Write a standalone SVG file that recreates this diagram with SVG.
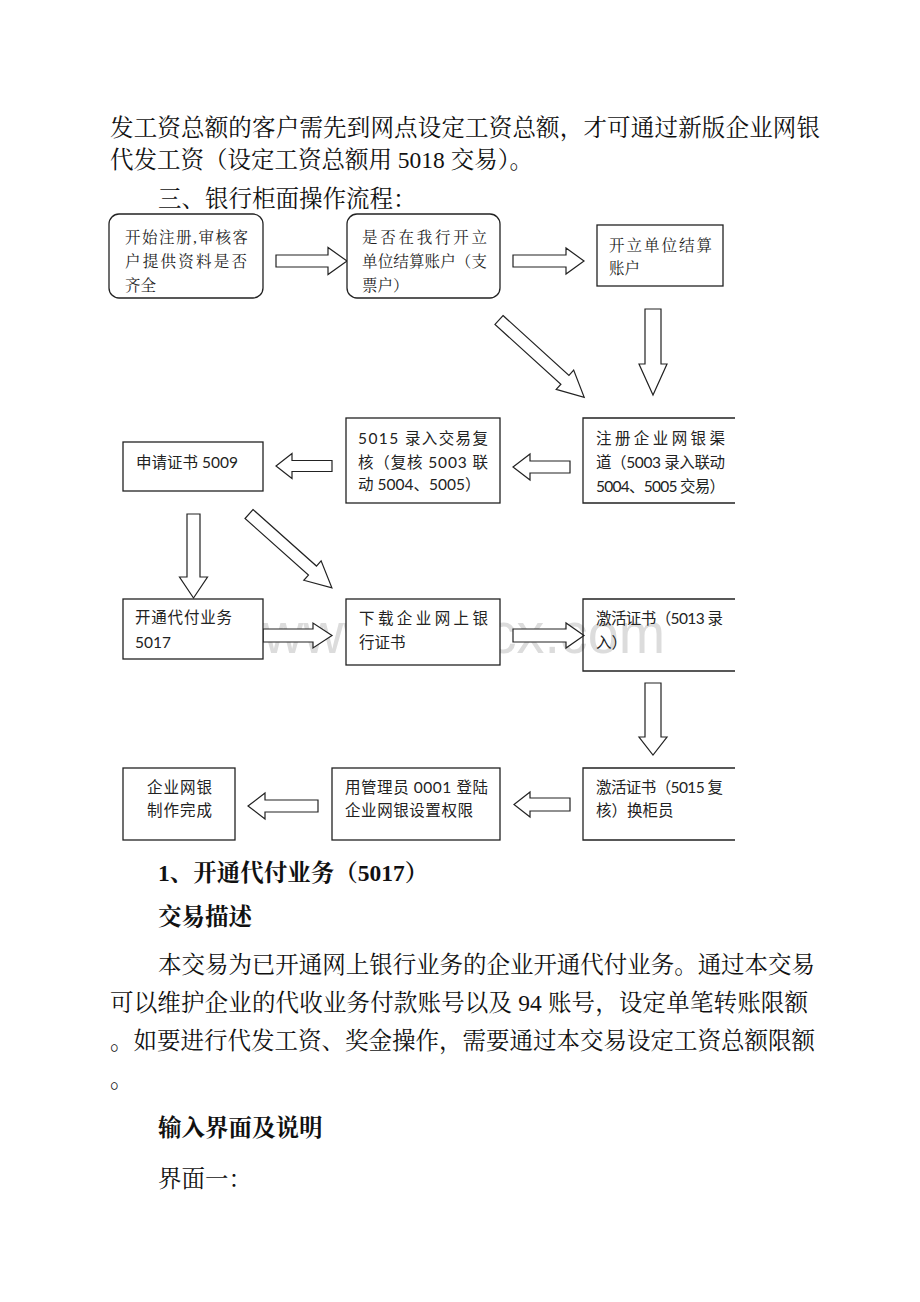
<svg xmlns="http://www.w3.org/2000/svg" width="920" height="1302" viewBox="0 0 920 1302">
<style>
.doc{font-family:"Liberation Serif","Noto Serif CJK SC","Noto Sans CJK SC",serif;font-size:23.5px;fill:#111}
.b{font-weight:bold}
.lbl{font-family:Lato,"Noto Sans CJK SC",sans-serif;font-size:15.5px;fill:#222}
.ser{font-family:"Liberation Serif","Noto Serif CJK SC","Noto Sans CJK SC",serif}
.box{fill:#fff;stroke:#222;stroke-width:1.3}
.open{fill:none;stroke:#222;stroke-width:1.3}
.arr{fill:#fff;stroke:#222;stroke-width:1.2;stroke-linejoin:miter}
.wm{font-family:"Liberation Sans",Arial,sans-serif;font-size:57px;fill:#dcdcdc}
</style>
<rect width="920" height="1302" fill="#fff"/>

<g id="intro">
<text class="doc" x="110" y="136" textLength="710" lengthAdjust="spacing">发工资总额的客户需先到网点设定工资总额，才可通过新版企业网银</text>
<text class="doc" x="110" y="168">代发工资（设定工资总额用 5018 交易）。</text>
<text class="doc" x="158" y="207">三、银行柜面操作流程：</text>
</g>

<text class="wm" x="263" y="653" textLength="402" lengthAdjust="spacingAndGlyphs">www.bdocx.com</text>

<g id="connectors">
<polygon class="arr" points="276,255 328,255 328,247.5 347,261 328,274.5 328,267 276,267"/>
<polygon class="arr" points="513,255 566,255 566,248 584,261 566,274 566,267 513,267"/>
<polygon class="arr" points="645,309 661,309 661,364 667,364 653,395 639,364 645,364"/>
<polygon class="arr" transform="translate(499,320) rotate(42.2)" points="0,-6 89,-6 89,-13 115,0 89,13 89,6 0,6"/>
<polygon class="arr" points="570,461 530,461 530,454 513,467 530,480 530,473 570,473"/>
<polygon class="arr" points="332,460.5 292,460.5 292,453.5 276,466 292,478.5 292,471.5 332,471.5"/>
<polygon class="arr" points="187,514 200,514 200,577 207.5,577 193.5,598 179.5,577 187,577"/>
<polygon class="arr" transform="translate(249,514) rotate(41.7)" points="0,-6 85,-6 85,-13 111,0 85,13 85,6 0,6"/>
<polygon class="arr" points="263,629 313,629 313,623 332,635.5 313,648 313,642 263,642"/>
<polygon class="arr" points="513,629 566,629 566,623 584,635.5 566,648 566,642 513,642"/>
<polygon class="arr" points="645,683 661,683 661,737 667,737 653,755 639,737 645,737"/>
<polygon class="arr" points="570,798 530,798 530,792 514,804.5 530,817 530,811 570,811"/>
<polygon class="arr" points="318,800 265,800 265,793 248,806 265,819 265,812 318,812"/>
</g>

<g id="n1">
<rect class="box" x="109" y="214" width="154" height="84" rx="10"/>
<text class="lbl ser" x="125" y="243" textLength="123" lengthAdjust="spacing">开始注册,审核客</text>
<text class="lbl ser" x="125" y="267" textLength="122" lengthAdjust="spacing">户提供资料是否</text>
<text class="lbl ser" x="125" y="291">齐全</text>
</g>
<g id="n2">
<rect class="box" x="347" y="214" width="153" height="84" rx="10"/>
<text class="lbl ser" x="362" y="243" textLength="125" lengthAdjust="spacing">是否在我行开立</text>
<text class="lbl ser" x="362" y="267" textLength="125" lengthAdjust="spacing">单位结算账户（支</text>
<text class="lbl ser" x="362" y="291">票户）</text>
</g>
<g id="n3">
<rect class="box" x="597" y="225" width="126" height="61"/>
<text class="lbl ser" x="609" y="251" textLength="103" lengthAdjust="spacing">开立单位结算</text>
<text class="lbl ser" x="609" y="274">账户</text>
</g>
<g id="n4">
<path class="open" d="M735,418 H583 V503 H735"/>
<text class="lbl" x="596" y="444" textLength="129" lengthAdjust="spacing">注册企业网银渠</text>
<text class="lbl" x="596" y="468" textLength="129" lengthAdjust="spacing">道（5003 录入联动</text>
<text class="lbl" x="596" y="492" textLength="129" lengthAdjust="spacing">5004、5005 交易）</text>
</g>
<g id="n5">
<rect class="box" x="346" y="418" width="154" height="85"/>
<text class="lbl" x="358" y="444" textLength="130" lengthAdjust="spacing">5015  录入交易复</text>
<text class="lbl" x="358" y="468" textLength="130" lengthAdjust="spacing">核（复核  5003  联</text>
<text class="lbl" x="358" y="490">动 5004、5005）</text>
</g>
<g id="n6">
<rect class="box" x="123" y="442" width="140" height="49"/>
<text class="lbl" x="136" y="468">申请证书 5009</text>
</g>
<g id="n7">
<rect class="box" x="123" y="599" width="140" height="60"/>
<text class="lbl" x="135" y="623" textLength="97" lengthAdjust="spacing">开通代付业务</text>
<text class="lbl" x="135" y="648">5017</text>
</g>
<g id="n8">
<rect class="box" x="346" y="599" width="154" height="66"/>
<text class="lbl" x="359" y="624" textLength="129" lengthAdjust="spacing">下载企业网上银</text>
<text class="lbl" x="359" y="648">行证书</text>
</g>
<g id="n9">
<path class="open" d="M735,599 H583 V671 H735"/>
<text class="lbl" x="596" y="624" textLength="127" lengthAdjust="spacing">激活证书（5013 录</text>
<text class="lbl" x="596" y="648">入）</text>
</g>
<g id="n10">
<path class="open" d="M735,768 H583 V840 H735"/>
<text class="lbl" x="596" y="793" textLength="127" lengthAdjust="spacing">激活证书（5015 复</text>
<text class="lbl" x="596" y="816">核）换柜员</text>
</g>
<g id="n11">
<rect class="box" x="332" y="768" width="168" height="72"/>
<text class="lbl" x="345" y="793" textLength="143" lengthAdjust="spacing">用管理员  0001  登陆</text>
<text class="lbl" x="345" y="816" textLength="128" lengthAdjust="spacing">企业网银设置权限</text>
</g>
<g id="n12">
<rect class="box" x="123" y="768" width="112" height="72"/>
<text class="lbl" x="147" y="793" textLength="65" lengthAdjust="spacing">企业网银</text>
<text class="lbl" x="147" y="816" textLength="65" lengthAdjust="spacing">制作完成</text>
</g>

<g id="body">
<text class="doc b" x="158" y="881">1、开通代付业务（5017）</text>
<text class="doc b" x="158" y="925">交易描述</text>
<text class="doc" x="158" y="973" textLength="657" lengthAdjust="spacing">本交易为已开通网上银行业务的企业开通代付业务。通过本交易</text>
<text class="doc" x="110" y="1011" textLength="698" lengthAdjust="spacing">可以维护企业的代收业务付款账号以及 94 账号，设定单笔转账限额</text>
<text class="doc" x="110" y="1049" textLength="705" lengthAdjust="spacing">。如要进行代发工资、奖金操作，需要通过本交易设定工资总额限额</text>
<text class="doc" x="110" y="1087">。</text>
<text class="doc b" x="158" y="1136">输入界面及说明</text>
<text class="doc" x="158" y="1187">界面一：</text>
</g>
</svg>
